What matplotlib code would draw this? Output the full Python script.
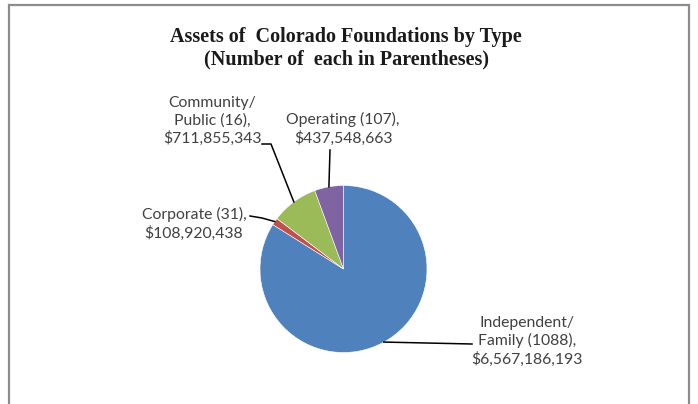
import matplotlib.pyplot as plt
import numpy as np
from matplotlib.patches import Rectangle

# data
labels = ["Independent/\nFamily (1088),\n$6,567,186,193",
          "Corporate (31),\n$108,920,438",
          "Community/\nPublic (16),\n$711,855,343",
          "Operating (107),\n$437,548,663"]
assets = [6567186193, 108920438, 711855343, 437548663]
colors = ["#4F81BD", "#C0504D", "#9BBB59", "#8064A2"]

W, H = 698, 404


def P(px, py):
    # pixel (top-left origin) -> data coords
    return px, H - py


fig = plt.figure(figsize=(W / 100, H / 100), dpi=100)
ax = fig.add_axes([0, 0, 1, 1])
ax.set_xlim(0, W)
ax.set_ylim(0, H)
ax.set_aspect("equal")
ax.axis("off")

# chart frame
ax.add_patch(Rectangle(P(9, 410), 680, 405, fill=False, edgecolor="#8c8c8c", lw=1.6))

cx, cy = P(343.5, 269)
r = 83.5
wedges, _ = ax.pie(assets, colors=colors, startangle=90, counterclock=False,
                   center=(cx, cy), radius=r, frame=True,
                   wedgeprops=dict(edgecolor="white", linewidth=0.4))
ax.set_xlim(0, W)
ax.set_ylim(0, H)
ax.axis("off")

# title
ax.text(*P(346, 48), "Assets of  Colorado Foundations by Type\n(Number of  each in Parentheses)",
        ha="center", va="center", fontsize=14.5, fontweight="bold",
        family="Liberation Serif", linespacing=1.15, color="#1a1a1a")

# label text centres and leader elbows (pixels)
text_pos = [(527, 341), (194, 224), (212, 121), (343, 129)]
elbows = [[(472, 344)],
          [(262, 218), (250, 216)],
          [(271, 144), (262, 144)],
          [(330, 150)]]

for w, lab, tp, elb in zip(wedges, labels, text_pos, elbows):
    mid = np.deg2rad((w.theta1 + w.theta2) / 2)
    ex, ey = cx + r * np.cos(mid), cy + r * np.sin(mid)
    xs = [ex] + [P(*e)[0] for e in elb]
    ys = [ey] + [P(*e)[1] for e in elb]
    ax.plot(xs, ys, color="black", lw=1.1)
    ax.text(*P(*tp), lab, ha="center", va="center", fontsize=11.3,
            family="Lato", linespacing=1.28, color="#404040")

fig.savefig("out.png", dpi=100)
